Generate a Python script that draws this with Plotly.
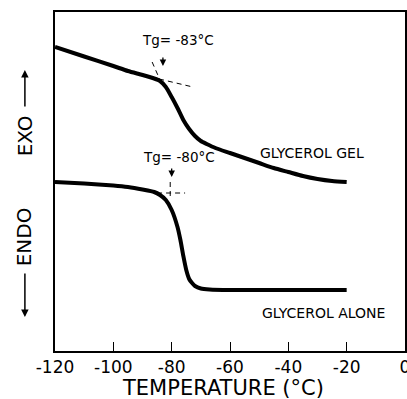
import plotly.graph_objects as go

# DSC thermograms: temperature (°C) vs. relative heat flow (arbitrary units)
gel_temp = [-120, -110, -100, -95, -90, -86, -84, -82, -80, -78, -76, -74, -72,
            -70, -68, -65, -60, -55, -50, -45, -40, -35, -30, -25, -20]
gel_flow = [30.4, 29.45, 28.5, 28.0, 27.6, 27.25, 27.0, 26.4, 25.4, 24.3, 23.1,
            22.2, 21.5, 21.0, 20.7, 20.3, 19.8, 19.3, 18.8, 18.3, 17.9, 17.5,
            17.2, 17.0, 16.9]

alone_temp = [-120, -110, -100, -95, -90, -86, -84, -82, -80, -78, -77, -76,
              -75, -74, -73, -72, -70, -67, -60, -40, -20]
alone_flow = [16.9, 16.75, 16.55, 16.4, 16.15, 15.9, 15.6, 15.1, 14.1, 12.4,
              11.1, 9.5, 8.1, 7.2, 6.8, 6.5, 6.25, 6.15, 6.1, 6.1, 6.1]

# Tangent constructions used to locate Tg
gel_base_t = [-84.3, -72.7]
gel_base_f = [27.2, 26.4]
gel_step_t = [-86.7, -84.0]
gel_step_f = [28.9, 27.1]
alone_base_t = [-85.0, -75.4]
alone_base_f = [15.8, 15.8]
alone_step_t = [-80.5, -80.5]
alone_step_f = [16.9, 15.3]

tg_gel = -83
tg_alone = -80

x_ticks = [-120, -100, -80, -60, -40, -20, 0]
x_tick_text = ["-120", "-100", "-80", "-60", "-40", "-20", "0"]

FONT = "DejaVu Sans, Liberation Sans, sans-serif"

fig = go.Figure()
for t, f in [(gel_temp, gel_flow), (alone_temp, alone_flow)]:
    fig.add_trace(go.Scatter(x=t, y=f, mode="lines",
                             line=dict(color="black", width=4, shape="spline",
                                       smoothing=0.6),
                             showlegend=False, hoverinfo="skip"))
for t, f in [(gel_base_t, gel_base_f), (gel_step_t, gel_step_f),
             (alone_base_t, alone_base_f), (alone_step_t, alone_step_f)]:
    fig.add_trace(go.Scatter(x=t, y=f, mode="lines",
                             line=dict(color="black", width=1, dash="5px,4px"),
                             showlegend=False, hoverinfo="skip"))


def label(x, y, text, size, **kw):
    d = dict(x=x, y=y, text=text, showarrow=False, font=dict(size=size),
             xanchor="center", yanchor="middle")
    d.update(kw)
    return d


def arrow(x, y, ay, width=1.3, **kw):
    d = dict(x=x, y=y, text="", showarrow=True, ax=0, ay=ay, arrowhead=2,
             arrowsize=1, arrowwidth=width, arrowcolor="black")
    d.update(kw)
    return d


annotations = [
    label(-77.8, 31.1, "Tg= -83°C", 13.5),
    label(-77.5, 19.4, "Tg= -80°C", 13.5),
    arrow(tg_gel, 28.5, -10),
    arrow(tg_alone, 17.4, -10),
    label(-31.9, 19.8, "GLYCEROL GEL", 14),
    label(-27.8, 3.8, "GLYCEROL ALONE", 14),
    # axis titles
    label(0.48, -0.108, "TEMPERATURE (°C)", 21, xref="paper", yref="paper"),
    label(-0.086, 0.636, "EXO", 20, xref="paper", yref="paper", textangle=-90),
    label(-0.086, 0.338, "ENDO", 20, xref="paper", yref="paper", textangle=-90),
    arrow(-0.086, 0.829, 38, width=1.5, xref="paper", yref="paper"),
    arrow(-0.086, 0.10, -45, width=1.5, xref="paper", yref="paper"),
]

fig.update_layout(
    width=407, height=399,
    margin=dict(l=55, r=2, t=12, b=48),
    paper_bgcolor="white", plot_bgcolor="white",
    font=dict(family=FONT, color="black"),
    annotations=annotations,
    showlegend=False,
)
fig.update_xaxes(range=[-120, 0], tickvals=x_ticks, ticktext=x_tick_text,
                 ticks="inside", ticklen=9, tickwidth=1.2, tickcolor="black",
                 showline=True, linecolor="black", linewidth=1.5, mirror=True,
                 showgrid=False, zeroline=False, automargin=False,
                 ticklabeloverflow="allow", tickfont=dict(size=17))
fig.update_yaxes(range=[0, 33.9], showticklabels=False, ticks="",
                 showline=True, linecolor="black", linewidth=1.5, mirror=True,
                 showgrid=False, zeroline=False, automargin=False)

fig.write_html("out.html")
